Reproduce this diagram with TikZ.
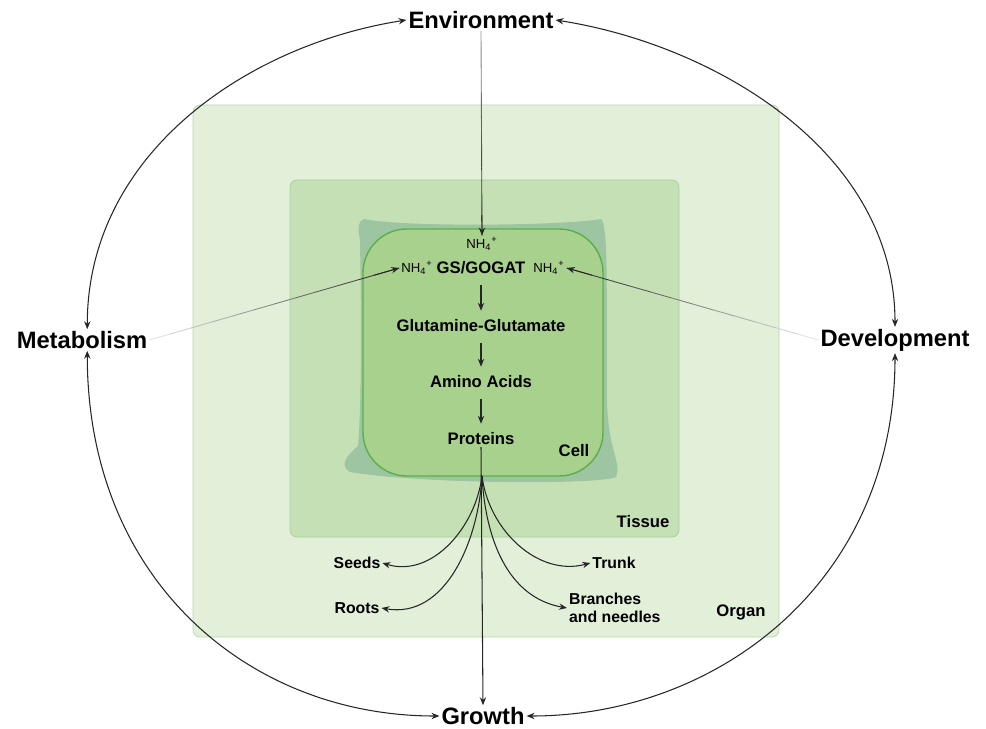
\documentclass[tikz,border=0pt]{standalone}
\usepackage{fontspec}
\setmainfont{Liberation Sans}
\usetikzlibrary{arrows.meta,calc}

\definecolor{organfill}{HTML}{E2EFD9}
\definecolor{organline}{HTML}{B5D8A9}
\definecolor{tissuefill}{HTML}{C6E0B5}
\definecolor{tissueline}{HTML}{A8CF9A}
\definecolor{wallfill}{HTML}{9DC5A2}
\definecolor{cellfill}{HTML}{A9D18E}
\definecolor{cellline}{HTML}{5BAE4C}

% thin uptake line that darkens towards its arrow tip
\newcommand{\fadeto}[3]{%
  \foreach \k [evaluate=\k as \a using (\k-1)/12,
               evaluate=\k as \b using \k/12,
               evaluate=\k as \lvl using int(#3+(85-#3)*\k/12)] in {1,...,12}
    \draw[black!\lvl, line width=0.5pt] ($(#1)!\a!(#2)$) -- ($(#1)!\b!(#2)$);
  \draw[link, line width=0.5pt] ($(#1)!0.9!(#2)$) -- (#2);}

\begin{document}
\begin{tikzpicture}[x=0.02cm, y=0.02cm,
    big/.style={font=\bfseries\fontsize{13.5}{15}\selectfont, inner sep=1pt},
    pathway/.style={font=\bfseries\fontsize{9.5}{11}\selectfont, inner sep=1pt},
    part/.style={font=\bfseries\fontsize{9}{10.5}\selectfont, inner sep=1pt, align=left},
    ion/.style={font=\fontsize{7.5}{9}\selectfont, inner sep=1pt},
    link/.style={-{Stealth[length=4.5pt,width=3.6pt]}, line width=0.6pt, black!85},
    dlink/.style={{Stealth[length=4.5pt,width=3.6pt]}-{Stealth[length=4.5pt,width=3.6pt]}, line width=0.6pt, black!85},
    chain/.style={link, shorten <=5pt, shorten >=4pt}]
  \useasboundingbox (0,0) rectangle (986,-729);

  % organ, tissue and cell
  \draw[fill=organfill, draw=organline, rounded corners=4pt] (193,-105) rectangle (779,-637);
  \draw[fill=tissuefill, draw=tissueline, rounded corners=4pt] (290,-180) rectangle (679,-537);
  \fill[wallfill] (364,-219) .. controls (400,-227) and (560,-226) .. (601,-219)
    .. controls (609,-226) and (606,-300) .. (607,-400)
    .. controls (608,-452) and (622,-462) .. (616,-477)
    .. controls (600,-485) and (420,-484) .. (350,-472)
    .. controls (339,-466) and (346,-456) .. (358,-446)
    .. controls (362,-400) and (361,-300) .. (360,-240)
    .. controls (358,-230) and (357,-222) .. (364,-219) -- cycle;
  \draw[fill=cellfill, draw=cellline, line width=0.8pt, rounded corners=25pt] (363,-229) rectangle (603,-476);

  \node[pathway] (celllabel) at (574,-451) {Cell};
  \node[pathway] (tissuelabel) at (643,-522) {Tissue};
  \node[pathway] (organlabel) at (741,-612) {Organ};

  % outer factors
  \node[big] (env) at (481,-20) {Environment};
  \node[big] (meta) at (82,-340) {Metabolism};
  \node[big] (dev) at (895,-340) {Development};
  \node[big] (growth) at (483,-716) {Growth};

  % nitrogen assimilation inside the cell
  \node[ion] (nhtop) at (482,-244) {NH\textsubscript{4}\textsuperscript{+}};
  \node[ion] (nhleft) at (417,-268) {NH\textsubscript{4}\textsuperscript{+}};
  \node[ion] (nhright) at (549,-268) {NH\textsubscript{4}\textsuperscript{+}};
  \node[pathway] (gs) at (481,-268) {GS/GOGAT};
  \node[pathway] (glu) at (481,-326) {Glutamine-Glutamate};
  \node[pathway] (amino) at (481,-382) {Amino Acids};
  \node[pathway] (prot) at (481,-439) {Proteins};

  \draw[chain] (gs) -- (glu);
  \draw[chain] (glu) -- (amino);
  \draw[chain] (amino) -- (prot);

  \fadeto{env.south}{nhtop.north}{40}
  \fadeto{meta.east}{nhleft.west}{5}
  \fadeto{dev.west}{nhright.east}{5}

  % organs fed by the proteins
  \node[part] (seeds) at (357,-563) {Seeds};
  \node[part] (roots) at (357,-608) {Roots};
  \node[part] (trunk) at (614,-563) {Trunk};
  \node[part, anchor=west] (branches) at (567,-608) {Branches\\and needles};

  \coordinate (split) at (482,-476);
  \draw[link] (prot.south) -- (growth.north);
  \draw[link] (split) to[out=-97,in=-17] (seeds.east);
  \draw[link] (split) to[out=-93,in=-10] (roots.east);
  \draw[link] (split) to[out=-83,in=195] (trunk.west);
  \draw[link] (split) to[out=-87,in=170] (branches.west);

  % outer cycle
  \draw[dlink] ([xshift=3pt]meta.north) .. controls +(0,175) and +(-160,-25) .. (env.west);
  \draw[dlink] (env.east) .. controls +(160,-25) and +(0,175) .. (dev.north);
  \draw[dlink] ([xshift=3pt]meta.south) .. controls +(0,-230) and +(-190,0) .. (growth.west);
  \draw[dlink] (dev.south) .. controls +(0,-230) and +(190,0) .. (growth.east);
\end{tikzpicture}
\end{document}
